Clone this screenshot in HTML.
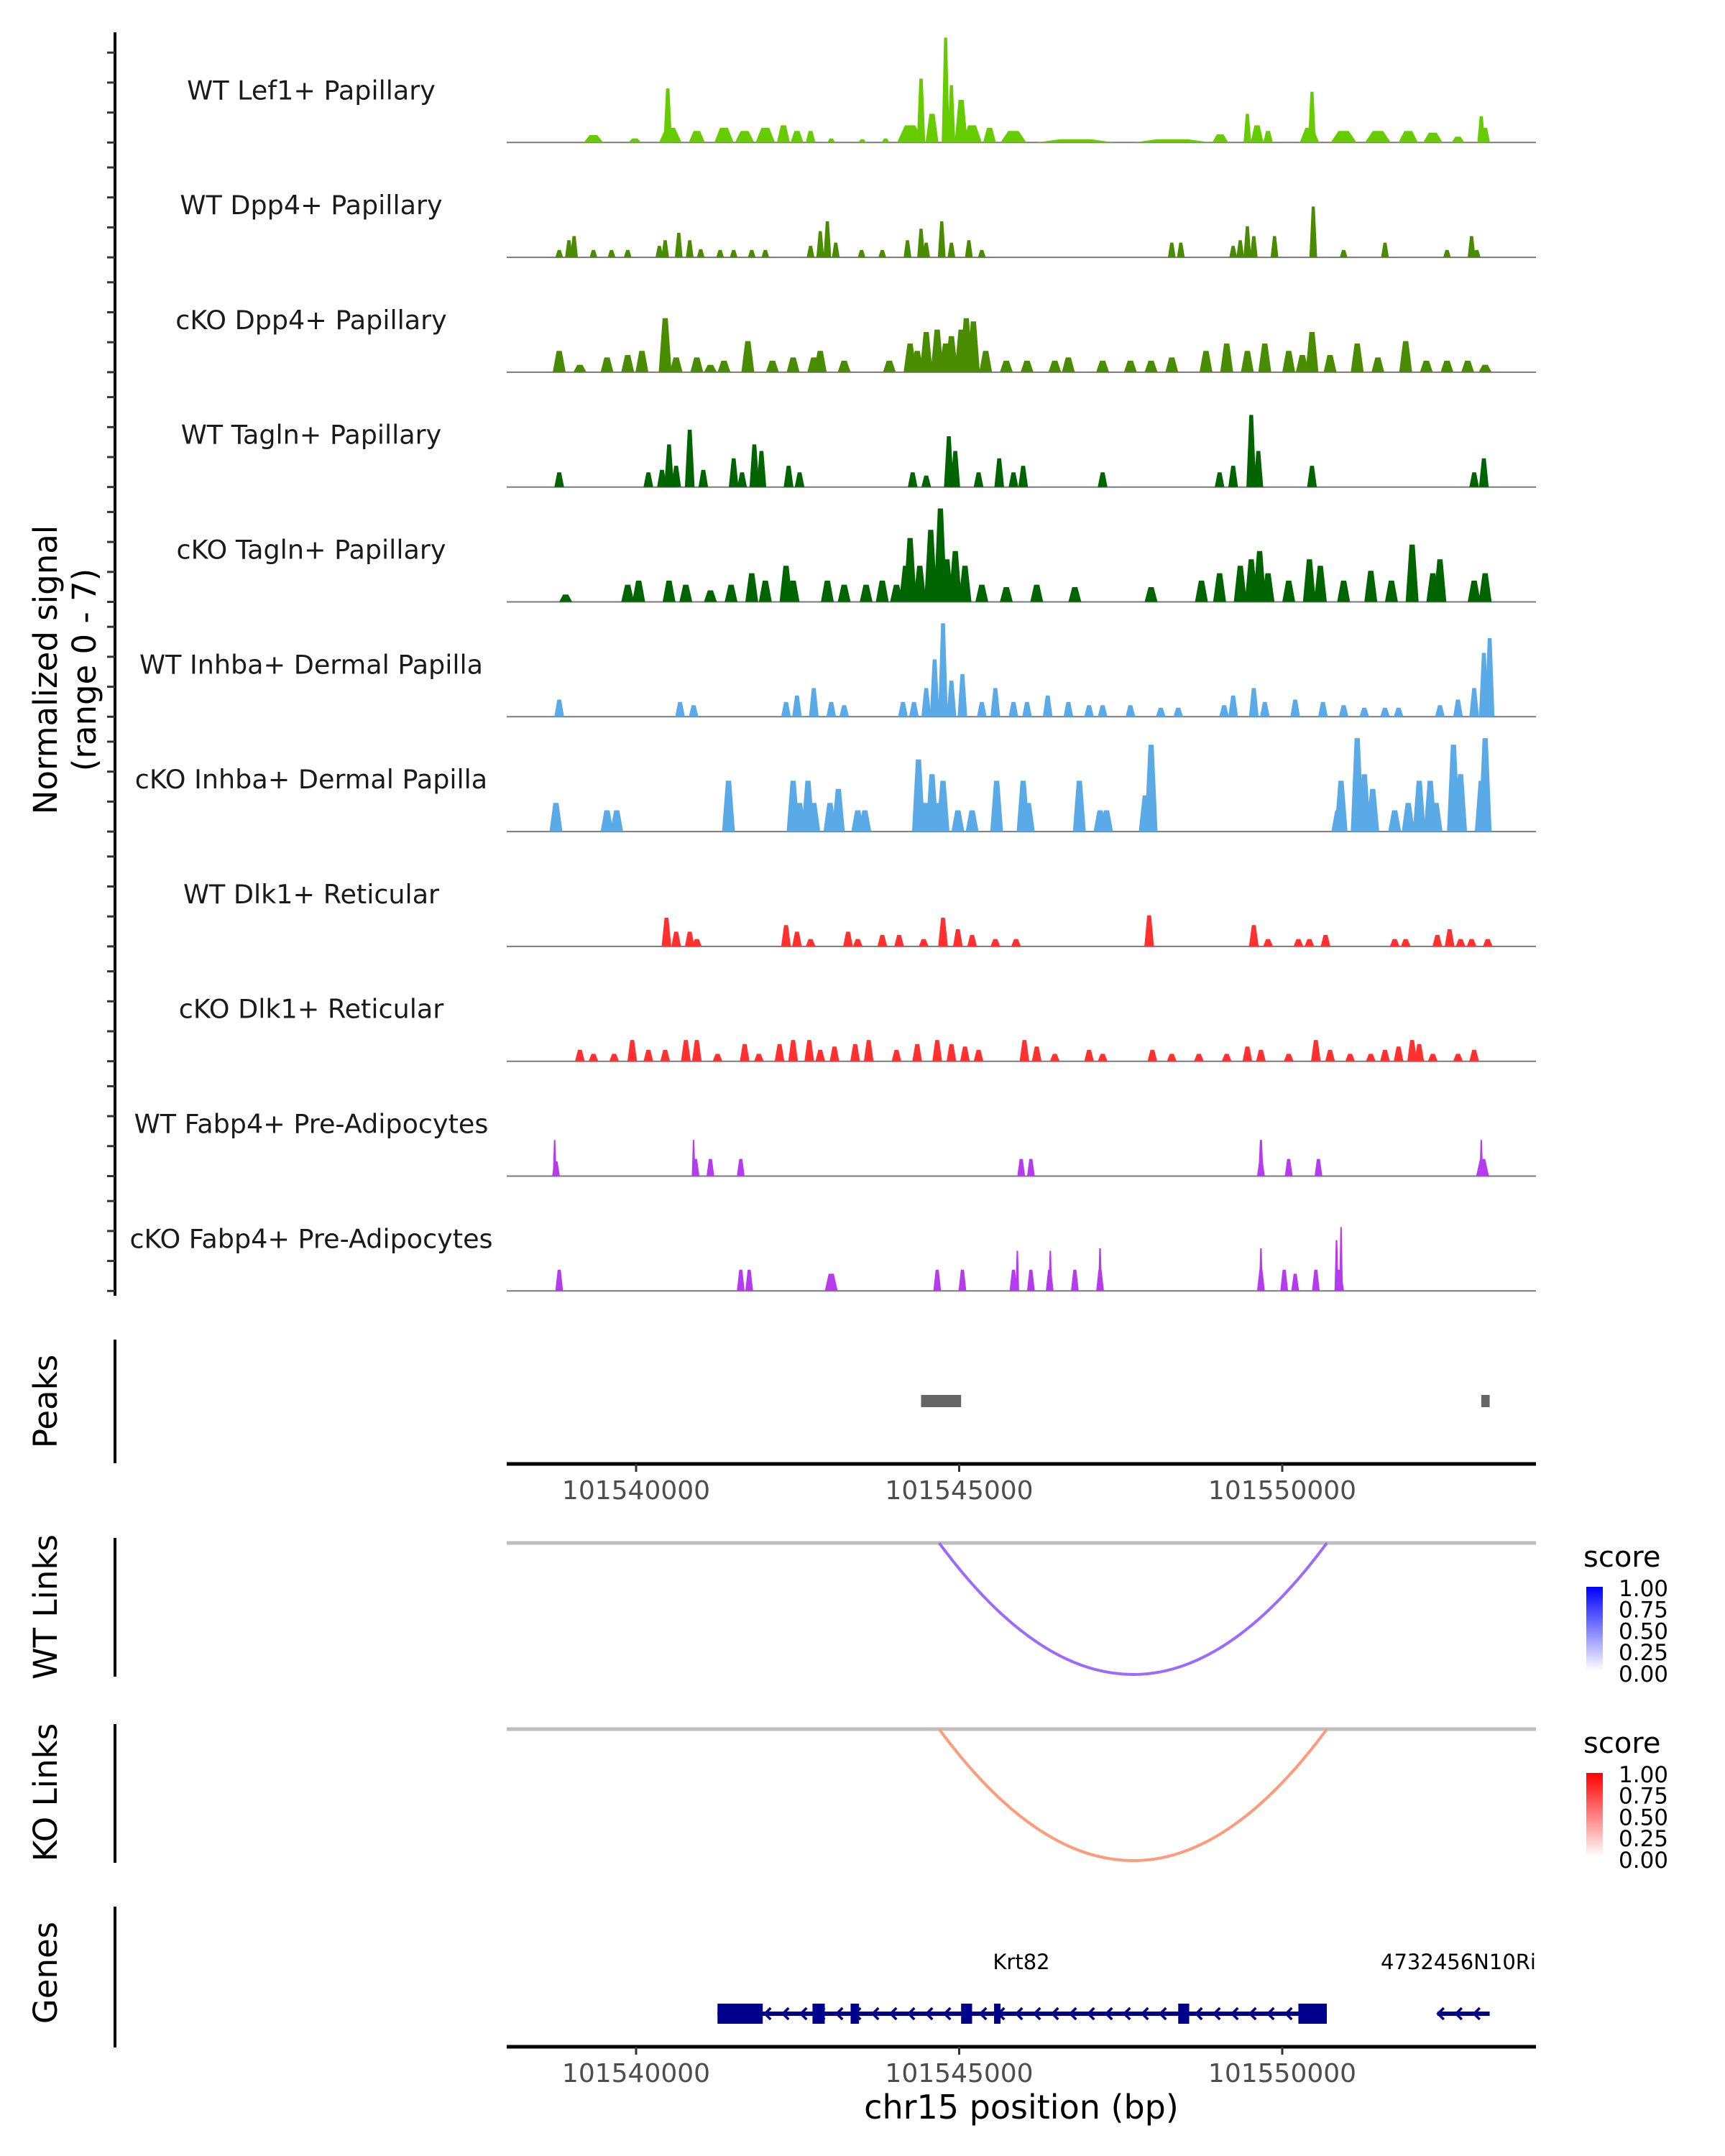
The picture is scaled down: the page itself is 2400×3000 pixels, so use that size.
<!DOCTYPE html>
<html><head><meta charset="utf-8"><style>
html,body{margin:0;padding:0;background:#fff;}
svg{display:block;font-family:"DejaVu Sans","Liberation Sans",sans-serif;}
</style></head><body>
<svg id="fig" xmlns="http://www.w3.org/2000/svg" width="2400" height="3000" viewBox="0 0 2400 3000"></svg>
<script>
// ---- data (positions: kb offset from chr15:101540000; heights: normalized signal) ----
const trackNames = ["WT Lef1+ Papillary","WT Dpp4+ Papillary","cKO Dpp4+ Papillary","WT Tagln+ Papillary","cKO Tagln+ Papillary","WT Inhba+ Dermal Papilla","cKO Inhba+ Dermal Papilla","WT Dlk1+ Reticular","cKO Dlk1+ Reticular","WT Fabp4+ Pre-Adipocytes","cKO Fabp4+ Pre-Adipocytes"];
const trackColors = ["#66cc00","#4a8c00","#4a8c00","#006400","#006400","#5aaae8","#5aaae8","#ff3030","#ff3030","#b53cee","#b53cee"];
const defaultWidthKb = [0.2,0.12,0.2,0.15,0.2,0.15,0.2,0.15,0.15,0.12,0.12];
const lef1WT = [[-0.66,0.45,0.3],[-0.02,0.25,0.2],[0.53,0.9,0.35],[0.49,3.3,0.13],[0.94,0.7,0.25],[1.36,0.9,0.3],[1.68,0.7,0.3],[2.0,0.9,0.3],[2.28,1.05,0.2],[2.49,0.7,0.2],[2.7,0.7,0.15],[3.02,0.25,0.12],[3.5,0.2,0.12],[3.86,0.25,0.12],[4.24,1.05,0.4],[4.41,3.9,0.13],[4.58,1.75,0.2],[4.79,6.4,0.12],[4.88,3.5,0.12],[5.03,2.6,0.2],[5.2,1.05,0.3],[5.47,0.9,0.2],[5.84,0.7,0.4],[6.8,0.2,1.2],[8.3,0.2,1.2],[9.04,0.5,0.25],[9.46,1.75,0.12],[9.61,1.05,0.2],[9.78,0.7,0.15],[10.42,0.9,0.3],[10.46,3.1,0.12],[10.95,0.7,0.4],[11.48,0.7,0.4],[11.95,0.7,0.3],[12.33,0.6,0.3],[12.72,0.35,0.2],[13.14,0.9,0.15],[13.08,1.6,0.12]];
const dpp4WT = [[-1.19,0.45],[-1.04,1.05],[-0.96,1.3],[-0.66,0.45],[-0.38,0.45],[-0.13,0.45],[0.36,0.7],[0.45,1.05],[0.66,1.5],[0.83,1.05],[1.0,0.5],[1.3,0.45],[1.51,0.45],[1.79,0.45],[2.0,0.45],[2.7,0.7],[2.85,1.6],[2.96,2.2],[3.09,0.9],[3.49,0.45],[3.81,0.45],[4.2,1.05],[4.41,1.75],[4.49,0.9],[4.73,2.2],[4.88,0.9],[5.15,1.05],[5.35,0.45],[8.29,0.9],[8.43,0.9],[9.24,0.7],[9.35,1.05],[9.46,1.9],[9.56,1.3],[9.88,1.3],[10.48,3.1],[10.95,0.45],[11.59,0.9],[12.55,0.45],[12.93,1.3],[13.01,0.45]];
const dpp4KO = [[-1.19,1.3],[-0.87,0.45],[-0.45,0.9],[-0.13,1.05],[0.09,1.3],[0.45,3.3],[0.62,0.9],[0.94,0.9],[1.15,0.45],[1.36,0.7],[1.73,1.9],[2.11,0.7],[2.43,0.9],[2.75,0.9],[2.85,1.3],[3.22,0.7],[3.92,0.7],[4.24,1.75],[4.35,1.3],[4.49,2.45],[4.66,2.6],[4.79,1.75],[4.88,2.2],[5.03,2.6],[5.11,3.3],[5.22,3.1],[5.41,1.3],[5.73,0.7],[6.05,0.7],[6.48,0.7],[6.69,0.9],[7.22,0.7],[7.65,0.7],[7.97,0.7],[8.29,0.9],[8.82,1.3],[9.14,1.75],[9.46,1.3],[9.73,1.75],[10.1,1.3],[10.31,1.05],[10.46,2.45],[10.74,1.05],[11.16,1.75],[11.48,0.9],[11.91,1.9],[12.23,0.7],[12.55,0.7],[12.87,0.7],[13.14,0.45]];
const taglnWT = [[-1.19,0.9],[0.19,0.9],[0.4,1.05],[0.51,2.6],[0.62,1.3],[0.83,3.5],[1.04,1.05],[1.51,1.75],[1.64,0.9],[1.83,2.6],[1.94,2.2],[2.36,1.3],[2.53,0.9],[4.28,0.9],[4.49,0.7],[4.84,3.1],[4.94,2.2],[5.3,0.9],[5.62,1.75],[5.84,0.9],[5.99,1.3],[7.22,0.9],[9.03,0.9],[9.24,1.3],[9.52,4.4],[9.63,2.2],[10.46,1.3],[12.97,0.9],[13.12,1.75]];
const taglnKO = [[-1.09,0.45],[-0.13,1.05],[0.04,1.3],[0.51,1.3],[0.77,1.05],[1.15,0.7],[1.47,1.05],[1.79,1.75],[2.0,1.3],[2.32,2.2],[2.43,1.3],[2.96,1.3],[3.22,1.05],[3.56,1.05],[3.81,1.3],[4.03,1.05],[4.17,2.2],[4.24,3.9],[4.39,2.2],[4.56,4.4],[4.71,5.7],[4.81,2.6],[4.94,3.1],[5.09,2.2],[5.35,1.05],[5.73,0.9],[6.2,1.05],[6.79,0.9],[7.97,0.9],[8.75,1.3],[9.03,1.75],[9.35,2.2],[9.52,2.6],[9.65,3.1],[9.78,1.75],[10.1,1.3],[10.42,2.6],[10.59,2.2],[10.95,1.3],[11.37,1.9],[11.69,1.3],[12.01,3.5],[12.33,1.75],[12.44,2.6],[12.97,1.3],[13.14,1.75]];
const inhbaWT = [[-1.19,1.05],[0.68,0.9],[0.89,0.7],[2.32,0.9],[2.49,1.3],[2.75,1.75],[3.02,0.9],[3.22,0.7],[4.13,0.9],[4.3,0.9],[4.49,1.75],[4.62,3.5],[4.75,5.7],[4.88,2.2],[5.05,2.6],[5.35,0.9],[5.56,1.75],[5.84,0.9],[6.05,0.9],[6.37,1.3],[6.69,0.9],[7.01,0.7],[7.22,0.7],[7.65,0.7],[8.12,0.55],[8.39,0.55],[9.1,0.7],[9.24,1.3],[9.56,1.75],[9.73,0.9],[10.2,1.05],[10.63,0.9],[10.95,0.7],[11.27,0.55],[11.59,0.55],[11.8,0.55],[12.44,0.7],[12.72,1.05],[12.97,1.75],[13.12,3.9],[13.21,4.8]];
const inhbaKO = [[-1.24,1.75],[-0.45,1.3],[-0.3,1.3],[1.43,3.1],[2.43,3.1],[2.53,1.75],[2.66,3.1],[2.75,1.75],[3.0,1.75],[3.13,2.6],[3.43,1.3],[3.54,1.3],[4.37,4.4],[4.47,1.75],[4.58,3.5],[4.69,1.75],[4.75,3.1],[4.98,1.3],[5.2,1.3],[5.58,3.1],[5.99,3.1],[6.07,1.75],[6.86,3.1],[7.18,1.3],[7.28,1.3],[7.88,2.2],[7.97,5.3],[10.86,1.3],[10.91,3.1],[11.16,5.7],[11.27,3.5],[11.4,2.6],[11.74,1.3],[11.95,1.75],[12.12,3.1],[12.29,3.1],[12.38,1.75],[12.65,5.3],[12.76,3.5],[13.08,3.1],[13.14,5.7]];
const dlk1WT = [[0.47,1.75],[0.62,0.9],[0.83,0.9],[0.94,0.45],[2.32,1.3],[2.49,0.9],[2.7,0.45],[3.28,0.9],[3.43,0.45],[3.81,0.7],[4.07,0.7],[4.45,0.45],[4.75,1.75],[4.98,1.05],[5.2,0.7],[5.56,0.45],[5.88,0.45],[7.94,1.9],[9.56,1.3],[9.78,0.45],[10.25,0.45],[10.42,0.45],[10.67,0.7],[11.74,0.45],[11.91,0.45],[12.4,0.7],[12.59,1.05],[12.76,0.45],[12.93,0.45],[13.18,0.45]];
const dlk1KO = [[-0.87,0.7],[-0.66,0.45],[-0.34,0.45],[-0.06,1.3],[0.19,0.7],[0.45,0.7],[0.77,1.3],[0.94,1.3],[1.26,0.45],[1.68,1.05],[1.9,0.45],[2.22,1.05],[2.43,1.3],[2.68,1.3],[2.85,0.7],[3.07,0.9],[3.39,1.05],[3.6,1.3],[4.03,0.7],[4.35,1.05],[4.66,1.3],[4.88,1.05],[5.09,0.9],[5.3,0.7],[6.01,1.3],[6.2,0.9],[6.48,0.45],[7.01,0.7],[7.22,0.45],[7.99,0.7],[8.29,0.45],[8.71,0.45],[9.14,0.45],[9.46,0.9],[9.67,0.7],[10.1,0.45],[10.52,1.3],[10.74,0.7],[11.05,0.45],[11.37,0.45],[11.59,0.7],[11.8,0.9],[12.01,1.3],[12.12,1.05],[12.33,0.45],[12.72,0.45],[12.97,0.7]];
const fabp4WT = [[-1.26,2.2,0.04],[-1.24,0.9],[0.89,2.2,0.05],[0.92,1.05],[1.15,1.05],[1.62,1.05],[5.96,1.05],[6.11,1.05],[9.67,2.2,0.08],[9.67,1.05],[10.1,1.05],[10.56,1.05],[13.08,2.2,0.04],[13.1,1.05,0.2]];
const fabp4KO = [[-1.19,1.3],[1.62,1.3],[1.75,1.3],[3.02,1.05,0.2],[4.66,1.3],[5.05,1.3],[5.84,1.3],[5.9,2.45,0.04],[6.11,1.3],[6.41,2.45,0.04],[6.4,1.3],[6.79,1.3],[7.18,2.6,0.06],[7.18,1.3],[9.67,2.6,0.06],[9.67,1.3],[10.03,1.3],[10.2,1.05],[10.52,1.3],[10.84,3.1,0.06],[10.91,3.9,0.04],[10.88,1.3,0.15]];
const peakRegions = [[4.41,5.03],[13.08,13.21]];
const wtLinks = [[4.69,10.69,0.6]];
const koLinks = [[4.69,10.69,0.45]];
const krt82Exons = [[1.26,1.96],[2.73,2.92],[3.32,3.45],[5.03,5.2],[5.54,5.64],[8.39,8.56],[10.25,10.69]];
const krt82Span = [1.26,10.69];
const geneBSpan = [12.4,13.21];
const xTickKb = [0,5,10];
const xTickLabels = ["101540000","101545000","101550000"];
const legendLabels = ["1.00","0.75","0.50","0.25","0.00"];

const trackData = [lef1WT,dpp4WT,dpp4KO,taglnWT,taglnKO,inhbaWT,inhbaKO,dlk1WT,dlk1KO,fabp4WT,fabp4KO];

// ---- scales ----
const X0 = 885, PXKB = 89.9;
function xs(kb){ return X0 + kb*PXKB; }
const PANEL_L = 705, PANEL_R = 2137;
const BASE0 = 198.3, TRACK_H = 159.8, UNIT = 22.8;
function baseY(i){ return BASE0 + i*TRACK_H; }
function ys(i,v){ return baseY(i) - v*UNIT; }

const svg = document.getElementById('fig');
const NS = "http://www.w3.org/2000/svg";
function mk(tag, attrs, parent){
  const e = document.createElementNS(NS, tag);
  for (const k in attrs) e.setAttribute(k, attrs[k]);
  (parent||svg).appendChild(e);
  return e;
}
function txt(s, attrs, parent){ const e = mk('text', attrs, parent); e.textContent = s; return e; }

const defs = mk('defs', {});
const gB = mk('linearGradient', {id:'gb', x1:0, y1:1, x2:0, y2:0}, defs);
mk('stop', {offset:'0', 'stop-color':'#ffffff'}, gB); mk('stop', {offset:'1', 'stop-color':'#0000ff'}, gB);
const gR = mk('linearGradient', {id:'gr', x1:0, y1:1, x2:0, y2:0}, defs);
mk('stop', {offset:'0', 'stop-color':'#ffffff'}, gR); mk('stop', {offset:'1', 'stop-color':'#ff0000'}, gR);

// ---- coverage tracks ----
const leftAxis = mk('line', {x1:160, y1:45, x2:160, y2:1803, stroke:'#000', 'stroke-width':4});


for (let i=0;i<trackNames.length;i++){
  for (let k=0;k<4;k++){
    const y = baseY(i) - k*41.7;
    const t = mk('line', {x1:149, y1:y, x2:160, y2:y, stroke:'#333', 'stroke-width':3});
    
    
  }
}
for (let i=0;i<trackNames.length;i++){
  const g = mk('g', {});
  
  
  const lab = txt(trackNames[i], {x:433, y:baseY(i)-60, 'font-size':36.5, 'text-anchor':'middle', fill:'#1a1a1a'}, g);
  
  
  const bl = mk('line', {x1:PANEL_L, y1:baseY(i), x2:PANEL_R, y2:baseY(i), stroke:'#7a7a7a', 'stroke-width':2}, g);
  
  
  const data = trackData[i];
  for (const p of data){
    const w = Math.max((p[2]!==undefined?p[2]:defaultWidthKb[i])*PXKB, 5);
    const cx = xs(p[0]); const b = baseY(i); const top = ys(i,p[1]);
    const pts = [[cx-w/2,b],[cx-w*0.2,top],[cx+w*0.2,top],[cx+w/2,b]].map(q=>q[0].toFixed(1)+','+q[1].toFixed(1)).join(' ');
    const poly = mk('polygon', {points:pts, fill:trackColors[i]}, g);
    
    
  }
}

// ---- y titles ----
function vtitle(lines, cy, name){
  const g = mk('g', {transform:'translate(0,'+cy+') rotate(-90)'});
  
  
  lines.forEach((s,j)=>{ txt(s, {x:0, y:79 + j*54, 'font-size':45, 'text-anchor':'middle', fill:'#000'}, g); });
}
vtitle(["Normalized signal","(range 0 - 7)"], 932, 'y-axis-title');
vtitle(["Peaks"], 1950, 'peaks-title');
vtitle(["WT Links"], 2236, 'wt-links-title');
vtitle(["KO Links"], 2494, 'ko-links-title');
vtitle(["Genes"], 2745, 'genes-title');

// ---- peaks panel ----
const pax = mk('line', {x1:160, y1:1864, x2:160, y2:2036, stroke:'#000', 'stroke-width':4});


for (const r of peakRegions){
  const rc = mk('rect', {x:xs(r[0]), y:1941, width:Math.max(xs(r[1])-xs(r[0]),10), height:17, fill:'#666'});
  
  
}
function xAxis(y, name){
  const g = mk('g', {});
  
  
  mk('line', {x1:PANEL_L, y1:y, x2:PANEL_R, y2:y, stroke:'#000', 'stroke-width':5}, g);
  xTickKb.forEach((kb,j)=>{
    mk('line', {x1:xs(kb), y1:y, x2:xs(kb), y2:y+11, stroke:'#333', 'stroke-width':3}, g);
    const t = txt(xTickLabels[j], {x:xs(kb), y:y+49, 'font-size':36, 'text-anchor':'middle', fill:'#4d4d4d'}, g);
    
    
  });
}
xAxis(2037, 'peaks-x-axis');

// ---- links ----
function linkPanel(links, base, color, grad, legendTop, name){
  const g = mk('g', {});
  
  
  mk('line', {x1:160, y1:base-7, x2:160, y2:base+186, stroke:'#000', 'stroke-width':4}, g);
  mk('line', {x1:PANEL_L, y1:base, x2:PANEL_R, y2:base, stroke:'#bebebe', 'stroke-width':5}, g);
  for (const l of links){
    const x1 = xs(l[0]), x2 = xs(l[1]); const depth = 183;
    const p = mk('path', {d:'M'+x1+','+base+' Q'+((x1+x2)/2)+','+(base+2*depth)+' '+x2+','+base, fill:'none', stroke:color, 'stroke-width':4}, g);
    
    
  }
  const lg = mk('g', {}, g);
  
  
  txt('score', {x:2203, y:legendTop, 'font-size':40, fill:'#000'}, lg);
  mk('rect', {x:2207, y:legendTop+28, width:23, height:117, fill:'url(#'+grad+')'}, lg);
  legendLabels.forEach((s,j)=>{
    const yy = legendTop+41+j*29.7;
    txt(s, {x:2252, y:yy, 'font-size':31, fill:'#000'}, lg);
  });
}
linkPanel(wtLinks, 2147, '#9b6bff', 'gb', 2180, 'wt-links-panel');
linkPanel(koLinks, 2406, '#ff9a7a', 'gr', 2439, 'ko-links-panel');

// ---- genes ----
const gg = mk('g', {});


mk('line', {x1:160, y1:2653, x2:160, y2:2849, stroke:'#000', 'stroke-width':4}, gg);
const GY = 2802, GC = '#00008b';
function chevrons(a,b){
  for (let x=a+18; x<b-8; x+=25){
    mk('path', {d:'M'+(x+6)+','+(GY-8)+' L'+(x-2)+','+GY+' L'+(x+6)+','+(GY+8), fill:'none', stroke:GC, 'stroke-width':3.5}, gg);
  }
}
mk('line', {x1:xs(krt82Span[0]), y1:GY, x2:xs(krt82Span[1]), y2:GY, stroke:GC, 'stroke-width':6}, gg);
chevrons(xs(krt82Span[0]), xs(krt82Span[1]));
for (const e of krt82Exons){
  const r = mk('rect', {x:xs(e[0]), y:GY-14, width:Math.max(xs(e[1])-xs(e[0]),6), height:28, fill:GC}, gg);
  
  
}
mk('line', {x1:xs(geneBSpan[0]), y1:GY, x2:xs(geneBSpan[1]), y2:GY, stroke:GC, 'stroke-width':6}, gg);
chevrons(xs(geneBSpan[0])-15, xs(geneBSpan[1]));
const kl = txt('Krt82', {x:1421, y:2740, 'font-size':29, 'text-anchor':'middle', fill:'#000'}, gg);


const bl2 = txt('4732456N10Ri', {x:2137, y:2740, 'font-size':29, 'text-anchor':'end', fill:'#000'}, gg);



xAxis(2848, 'genes-x-axis');
const xt = txt('chr15 position (bp)', {x:1421, y:2948, 'font-size':46, 'text-anchor':'middle', fill:'#000'});


</script>
</body></html>
